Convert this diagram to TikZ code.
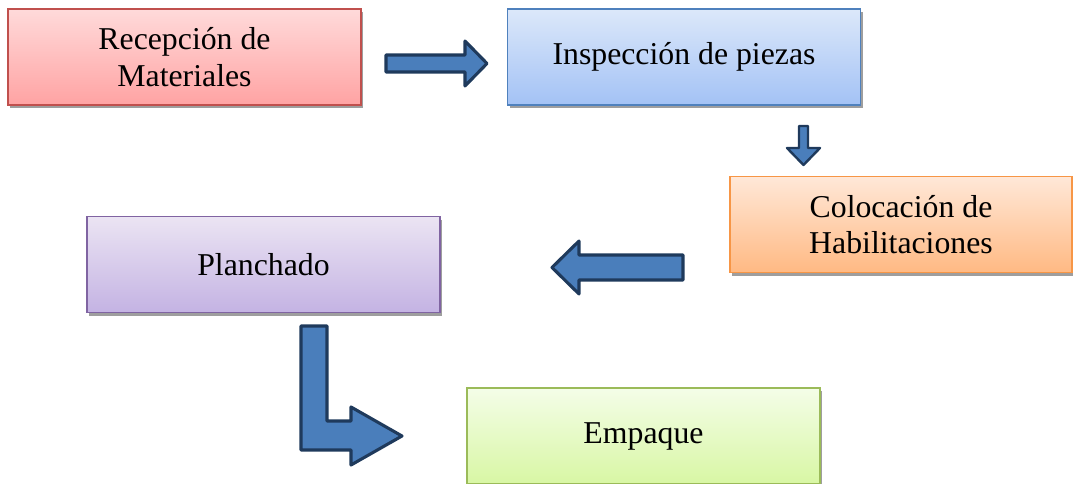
\documentclass[tikz,border=0pt]{standalone}
\usepackage{fontspec}
\setmainfont{Liberation Serif}
\usetikzlibrary{shadows}

\definecolor{flecha}{HTML}{4A7EBB}
\definecolor{flechaborde}{HTML}{1F3A5C}
\definecolor{rojoborde}{HTML}{C0504D}
\definecolor{rojoarriba}{HTML}{FFDADA}
\definecolor{rojoabajo}{HTML}{FFA3A3}
\definecolor{azulborde}{HTML}{4F81BD}
\definecolor{azularriba}{HTML}{DCE8FA}
\definecolor{azulabajo}{HTML}{A3C2F5}
\definecolor{naranjaborde}{HTML}{F79646}
\definecolor{naranjaarriba}{HTML}{FFE8D8}
\definecolor{naranjaabajo}{HTML}{FFB983}
\definecolor{moradoborde}{HTML}{8064A2}
\definecolor{moradoarriba}{HTML}{EBE4F3}
\definecolor{moradoabajo}{HTML}{C4B3E3}
\definecolor{verdeborde}{HTML}{9BBB59}
\definecolor{verdearriba}{HTML}{F4FDE8}
\definecolor{verdeabajo}{HTML}{D8F7A4}

\tikzset{
  caja/.style={draw,line width=0.9pt,minimum width=8.825cm,minimum height=2.4cm,
    align=center,font=\fontsize{22.6}{26}\selectfont,
    drop shadow={shadow xshift=1.5pt,shadow yshift=-2.2pt,fill=black!38,opacity=1}},
  bloque/.style={fill=flecha,draw=flechaborde,line width=2.2pt,line join=round}
}

\begin{document}
\begin{tikzpicture}[x=0.025cm,y=-0.025cm]
\useasboundingbox (0,0) rectangle (1073,484);

\node[caja,draw=rojoborde,top color=rojoarriba,bottom color=rojoabajo] (recep) at (184.5,57) {Recepción de\\Materiales};
\node[caja,draw=azulborde,top color=azularriba,bottom color=azulabajo] (insp) at (684,57) {Inspección de piezas};
\node[caja,draw=naranjaborde,top color=naranjaarriba,bottom color=naranjaabajo,minimum width=8.55cm] (coloc) at (901,224.5) {Colocación de\\Habilitaciones};
\node[caja,draw=moradoborde,top color=moradoarriba,bottom color=moradoabajo] (planch) at (263.5,264.5) {Planchado};
\node[caja,draw=verdeborde,top color=verdearriba,bottom color=verdeabajo] (empaq) at (643.5,436) {Empaque};

% flechas
\draw[bloque] (386,55) -- (465,55) -- (465,41) -- (487,63.5) -- (465,86) -- (465,72) -- (386,72) -- cycle;
\draw[bloque,line width=1.7pt] (799,126) -- (808,126) -- (808,148) -- (820,148) -- (803.5,165) -- (787,148) -- (799,148) -- cycle;
\draw[bloque] (683,255) -- (579,255) -- (579,241) -- (552,267.5) -- (579,294) -- (579,280) -- (683,280) -- cycle;
\draw[bloque] (301,326) -- (327,326) -- (327,421) -- (351,421) -- (351,407) -- (402,436) -- (351,465) -- (351,450) -- (301,450) -- cycle;

\end{tikzpicture}
\end{document}
